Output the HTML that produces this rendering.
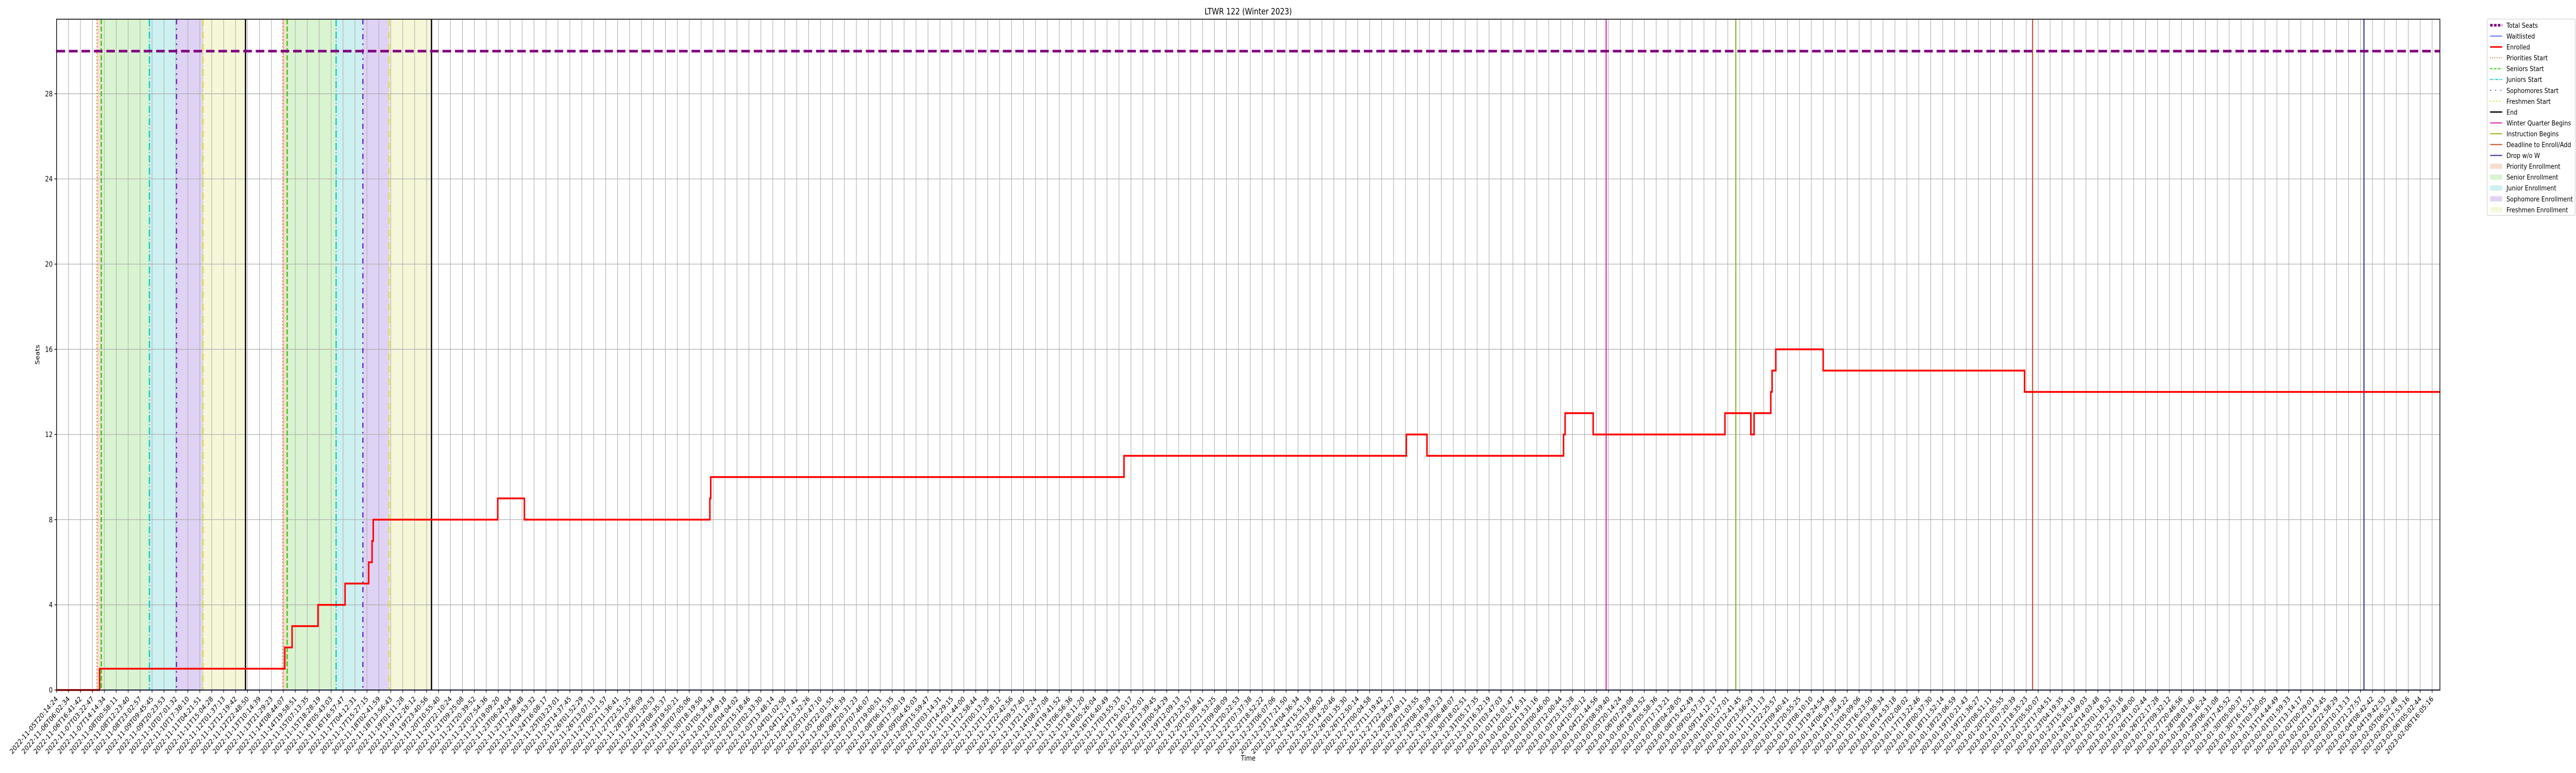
<!DOCTYPE html>
<html><head><meta charset="utf-8"><style>
html,body{margin:0;padding:0;background:#fff;width:100%;height:100%;overflow:hidden;}
svg{display:block;font-family:"DejaVu Sans","Liberation Sans",sans-serif;overflow:hidden;width:100vw;height:100vh;}
</style></head><body>
<svg id="chart" xmlns="http://www.w3.org/2000/svg" viewBox="0 0 6000 1500" preserveAspectRatio="none">
<rect width="6000" height="1500" fill="#fff"/>
<g id="shades"></g><g id="grid"></g><g id="vlines"></g><g id="series"></g><g id="axes"></g><g id="legend"></g>
</svg>
<script>
// ---- data (x in tick-index units, y in seats) ----
const yTicks = [0,4,8,12,16,20,24,28];
const totalSeats = 30;
const stepX = [0,3.61,19.12,19.73,21.90,24.17,26.15,26.43,26.53,36.96,39.19,54.73,54.80,89.42,113.07,114.80,126.24,126.37,128.72,139.76,141.93,142.20,143.60,143.71,144.02,147.99,164.86];
const enrolled = [0,1,2,3,4,5,6,7,8,9,8,9,10,11,12,11,12,13,12,13,12,13,14,15,16,15,14];
const dataEndX = 199.69;
const waitStartX = 3.75;
const waitlisted = [0];
const periodNames = ['priority','senior','junior','sophomore','freshmen'];
const cycle1 = [3.39,3.75,7.78,10.05,12.28,15.83];
const cycle2 = [18.95,19.32,23.42,25.66,27.87,31.41];
const winterX = 129.81, instructionX = 140.67, deadlineX = 165.53, dropX = 193.29;
const firstLabels = ['2022-11-05T20:14:24','2022-11-06T06:02:34','2022-11-06T16:41:42','2022-11-07T03:22:47','2022-11-07T14:14:34','2022-11-08T00:58:11','2022-11-08T12:23:40','2022-11-08T23:02:57','2022-11-09T09:45:45','2022-11-09T20:23:53','2022-11-10T07:01:32','2022-11-10T17:38:10','2022-11-11T04:21:51','2022-11-11T15:04:28','2022-11-12T01:37:13','2022-11-12T12:19:42','2022-11-12T22:48:50','2022-11-13T10:14:39'];
const lastLabels = ['2023-02-04T08:42:42','2023-02-04T19:42:53','2023-02-05T06:52:48','2023-02-05T17:53:16','2023-02-06T05:02:44','2023-02-06T16:05:16'];
const nTicks = 200;

// ---- geometry ----
const L=131.7, R=5683, T=37.3, B=1339, TS=27.805, YMAX=31.5;
const sx = i => L + i*TS;
const sy = v => B - v*(B-T)/YMAX;
const NS='http://www.w3.org/2000/svg';
function mk(tag, parent, attrs){const e=document.createElementNS(NS,tag);for(const k in attrs)e.setAttribute(k,attrs[k]);parent.appendChild(e);return e;}
const G = id => document.getElementById(id);

// tick labels
const tickLabels=[];
const pad=n=>String(n).padStart(2,'0');
const t0=Date.UTC(2022,10,13,10,14,39), t1=Date.UTC(2023,1,4,8,42,42);
const nMid = nTicks-firstLabels.length-lastLabels.length;
firstLabels.forEach(s=>tickLabels.push(s));
for(let k=1;k<=nMid;k++){const d=new Date(t0+(t1-t0)*k/(nMid+1));tickLabels.push(d.getUTCFullYear()+'-'+pad(d.getUTCMonth()+1)+'-'+pad(d.getUTCDate())+'T'+pad(d.getUTCHours())+':'+pad(d.getUTCMinutes())+':'+pad(d.getUTCSeconds()));}
lastLabels.forEach(s=>tickLabels.push(s));

// shading
const shadeCol={priority:'#f8ddd0',senior:'#d9f4d0',junior:'#cdf0f0',sophomore:'#e0d2f4',freshmen:'#f6f7d8'};
[cycle1,cycle2].forEach((c,ci)=>{for(let p=0;p<5;p++){
  const r=mk('rect',G('shades'),{x:sx(c[p]),y:T,width:sx(c[p+1])-sx(c[p]),height:B-T,fill:shadeCol[periodNames[p]]});
  
  
}});

// grid
for(let i=0;i<nTicks;i++){const g=mk('line',G('grid'),{x1:sx(i),x2:sx(i),y1:T,y2:B,stroke:'#b0b0b0','stroke-width':1.3});
  
  }
yTicks.forEach(v=>{const g=mk('line',G('grid'),{x1:L,x2:R,y1:sy(v),y2:sy(v),stroke:'#b0b0b0','stroke-width':1.3});
  
  });

// vertical event lines
const vstyle={
  priorities:{c:'#ee7733',w:2.5,d:'2.5,4'},
  seniors:{c:'#33cc11',w:3,d:'10,4'},
  juniors:{c:'#11cccc',w:3,d:'14,4,2,4'},
  sophomores:{c:'#6a2ad0',w:3,d:'10,8,3,8'},
  freshmen:{c:'#dddd22',w:2.5,d:'14,4,2,4'},
  end:{c:'#000',w:3,d:''}
};
const vkeys=['priorities','seniors','juniors','sophomores','freshmen','end'];
[cycle1,cycle2].forEach(c=>{c.forEach((x,k)=>{const s=vstyle[vkeys[k]];
  const l=mk('line',G('vlines'),{x1:sx(x),x2:sx(x),y1:T,y2:B,stroke:s.c,'stroke-width':s.w});
  if(s.d)l.setAttribute('stroke-dasharray',s.d);
  
  });});
[[winterX,'#e619a8','winter-quarter-line'],[instructionX,'#88b417','instruction-begins-line'],[deadlineX,'#c84a1e','deadline-line'],[dropX,'#2e2e9a','drop-line']].forEach(a=>{
  const l=mk('line',G('vlines'),{x1:sx(a[0]),x2:sx(a[0]),y1:T,y2:B,stroke:a[1],'stroke-width':2.5});
  
  });

// series
const ts=mk('line',G('series'),{x1:L,x2:R,y1:sy(totalSeats),y2:sy(totalSeats),stroke:'#800080','stroke-width':5,'stroke-dasharray':'20,9'});


const wl=mk('line',G('series'),{x1:sx(waitStartX),x2:sx(dataEndX),y1:sy(waitlisted[0]),y2:sy(waitlisted[0]),stroke:'#3344ff','stroke-width':2});


let d='M'+sx(stepX[0])+' '+sy(enrolled[0]);
for(let i=1;i<stepX.length;i++){d+=' H'+sx(stepX[i])+' V'+sy(enrolled[i]);}
d+=' H'+sx(dataEndX);
const en=mk('path',G('series'),{d:d,fill:'none',stroke:'#ff0000','stroke-width':3.5});



// axes
const ax=G('axes');
const fr=mk('rect',ax,{x:L,y:T,width:R-L,height:B-T,fill:'none',stroke:'#000','stroke-width':1.6});


yTicks.forEach(v=>{mk('line',ax,{x1:L-5,x2:L,y1:sy(v),y2:sy(v),stroke:'#000','stroke-width':1.3});
  const t=mk('text',ax,{x:L-9,y:sy(v)+5,'text-anchor':'end','font-size':13.9,fill:'#000'});t.textContent=v;
  
  });
for(let i=0;i<nTicks;i++){const x=sx(i);
  mk('line',ax,{x1:x,x2:x,y1:B,y2:B+5,stroke:'#000','stroke-width':1.3});
  const ax0=x+4, ay0=B+18;
  const t=mk('text',ax,{x:ax0,y:ay0,'text-anchor':'end','font-size':13.9,fill:'#000',transform:'rotate(-45 '+ax0+' '+ay0+')'});
  t.textContent=tickLabels[i];
  
  }
const tt=mk('text',ax,{x:(L+R)/2,y:28,'text-anchor':'middle','font-size':16.7,fill:'#000'});tt.textContent='LTWR 122 (Winter 2023)';


const xl=mk('text',ax,{x:(L+R)/2,y:1476,'text-anchor':'middle','font-size':13.9,fill:'#000'});xl.textContent='Time';


const yl=mk('text',ax,{x:92,y:(T+B)/2,'text-anchor':'middle','font-size':13.9,fill:'#000',transform:'rotate(-90 92 '+((T+B)/2)+')'});yl.textContent='Seats';



// legend
const lg=G('legend');
const lb=mk('rect',lg,{x:5793,y:37,width:205,height:381,fill:'#fff',stroke:'#d0d0d0','stroke-width':1.3,rx:3});


const entries=[
 ['Total Seats','line','#800080','5','6,3'],['Waitlisted','line','#3344ff','1.5',''],['Enrolled','line','#ff0000','3',''],
 ['Priorities Start','line','#ee7733','2','2,3'],['Seniors Start','line','#33cc11','2','6,3'],['Juniors Start','line','#11cccc','2','6,2,2,2'],
 ['Sophomores Start','line','#6a2ad0','2','2,10'],['Freshmen Start','line','#dddd22','2','3,4'],['End','line','#000','2.5',''],
 ['Winter Quarter Begins','line','#e619a8','2',''],['Instruction Begins','line','#88b417','2',''],['Deadline to Enroll/Add','line','#c84a1e','2',''],
 ['Drop w/o W','line','#2e2e9a','2',''],
 ['Priority Enrollment','patch','#f8ddd0'],['Senior Enrollment','patch','#d9f4d0'],['Junior Enrollment','patch','#cdf0f0'],
 ['Sophomore Enrollment','patch','#e0d2f4'],['Freshmen Enrollment','patch','#f6f7d8']];
entries.forEach((e,k)=>{const y=49+k*21.05;
  const g=mk('g',lg,{});
  
  
  if(e[1]==='line'){const l=mk('line',g,{x1:5800,x2:5828,y1:y,y2:y,stroke:e[2],'stroke-width':e[3]});if(e[4])l.setAttribute('stroke-dasharray',e[4]);}
  else mk('rect',g,{x:5800,y:y-5,width:28,height:10,fill:e[2]});
  const t=mk('text',g,{x:5838,y:y+5,'font-size':13.5,fill:'#000'});t.textContent=e[0];});
</script>
</body></html>
